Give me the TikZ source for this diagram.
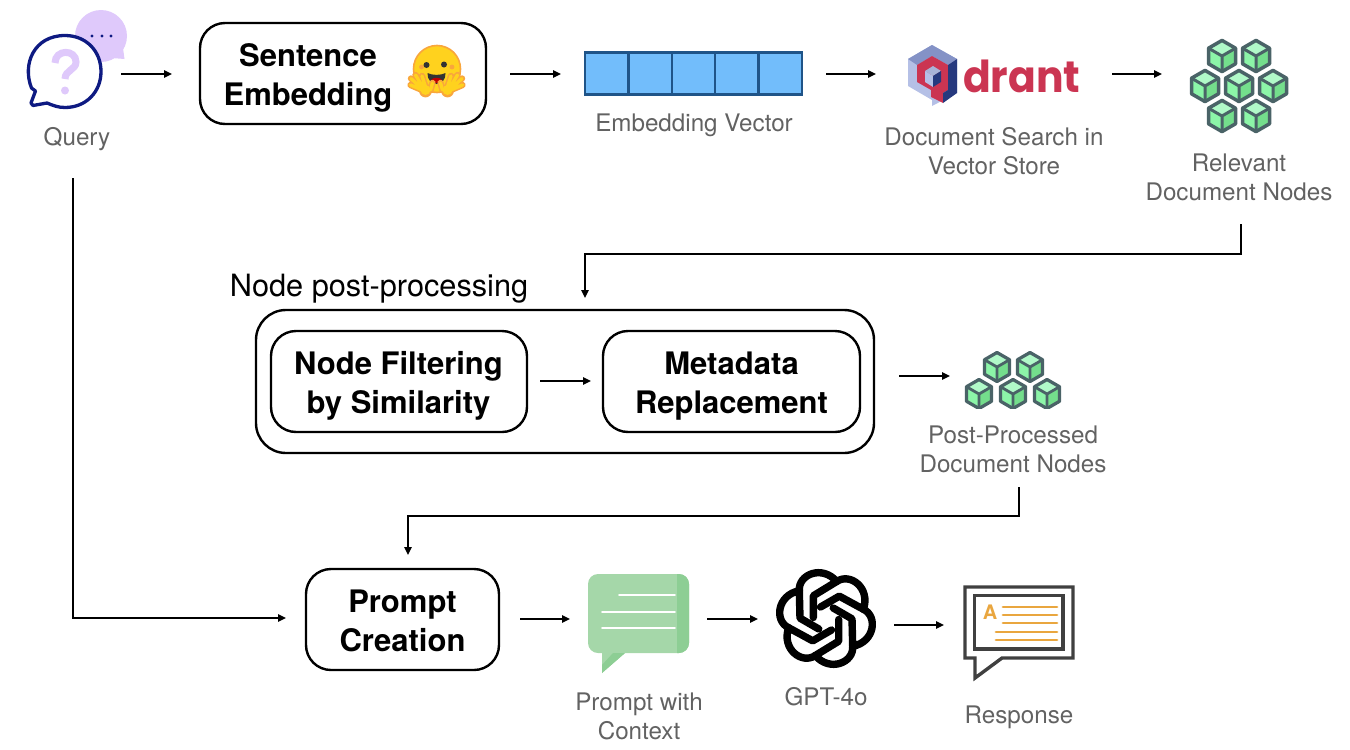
\documentclass[tikz,border=0pt]{standalone}
\usepackage{fontspec}
\setmainfont{TeX Gyre Heros}
\newfontfamily\logofont{Poppins}
\usetikzlibrary{arrows.meta}
\definecolor{lbl}{HTML}{626262}
\definecolor{cubeedge}{HTML}{4A6367}
\definecolor{cubetop}{HTML}{B0F9C8}
\definecolor{cubeleft}{HTML}{8CF5A8}
\definecolor{cuberight}{HTML}{74DE8C}
\definecolor{lilac}{HTML}{DFC9FB}
\definecolor{navy}{HTML}{0E1A82}
\definecolor{vecfill}{HTML}{72BDFB}
\definecolor{vecedge}{HTML}{1F5488}
\definecolor{qred}{HTML}{CB3552}
\definecolor{qnavy}{HTML}{26397E}
\definecolor{qmid}{HTML}{8492C6}
\definecolor{qlight}{HTML}{B5C0E6}
\definecolor{pgreen}{HTML}{A5D7A9}
\definecolor{pdark}{HTML}{8DCE94}
\definecolor{respgrey}{HTML}{404040}
\definecolor{resporange}{HTML}{E9A63F}
\definecolor{hugyellow}{HTML}{FFD21E}
\definecolor{hugorange}{HTML}{F9A63C}
\tikzset{
  box/.style={draw=black,line width=2.4pt,rounded corners=25pt,fill=white,inner sep=0pt},
  boldlabel/.style={font=\bfseries\fontsize{31}{39}\selectfont,align=center,text=black,inner sep=0pt},
  lab/.style={font=\fontsize{24.2}{29}\selectfont,align=center,text=lbl,inner sep=0pt},
  flow/.style={line width=1.5pt,-{Triangle[length=8pt,width=7.5pt]}},
  vcell/.style={draw=vecedge,line width=2.4pt,fill=vecfill,minimum width=43.4pt,minimum height=42pt,inner sep=0pt},
  cubeface/.style={draw=cubeedge,line join=round},
}
\newcommand\cubeicon[3]{%
  \begin{scope}[shift={(#1,#2)},scale=#3]
    \fill[cubeleft] (-13.5,-7.8) -- (0,0) -- (0,15.6) -- (-13.5,7.8) -- cycle;
    \fill[cuberight] (13.5,-7.8) -- (0,0) -- (0,15.6) -- (13.5,7.8) -- cycle;
    \fill[cubetop] (-13.5,-7.8) -- (0,-15.6) -- (13.5,-7.8) -- (0,0) -- cycle;
    \draw[cubeface,line width=#3*3.5pt] (0,-15.6) -- (13.5,-7.8) -- (13.5,7.8) -- (0,15.6) -- (-13.5,7.8) -- (-13.5,-7.8) -- cycle;
    \draw[cubeface,line width=#3*3pt] (-13.5,-7.8) -- (0,0) -- (13.5,-7.8) (0,0) -- (0,15.6);
  \end{scope}}
\begin{document}
\begin{tikzpicture}[x=1pt,y=-1pt]
\useasboundingbox (0,0) rectangle (1350,750);
% ---------- Query icon
\fill[lilac] (101,36) circle[radius=26pt];
\fill[lilac,line join=round] (112,58) -- (123,48) -- (124.5,59) -- cycle;
\fill[navy] (92,36) circle[radius=1.7pt] (102,36) circle[radius=1.7pt] (111,36) circle[radius=1.7pt];
\draw[navy,line width=3.3pt,fill=white,line join=round] (31.5,88) .. controls (22,64) and (34,35.5) .. (65,35.5)
  .. controls (86,35.5) and (101,51) .. (101,71.5) .. controls (101,92) and (86,107.5) .. (65,107.5)
  .. controls (58,107.5) and (53,105.5) .. (47,103) -- (33,105.5) -- (31,103) -- (35.5,91) -- cycle;
\draw[lilac,line width=7pt] (55,63) .. controls (55,49) and (76,49) .. (76,62) .. controls (76,70) and (65,70) .. (65,79);
\fill[lilac] (65,90.5) circle[radius=4pt];
\node[lab] (query) at (77,139) {Query};
% ---------- Sentence embedding
\node[box,minimum width=286pt,minimum height=101pt] (sent) at (343,73.5) {};
\node[boldlabel] (senttxt) at (308,78) {Sentence\\Embedding};
% hugging face
\fill[hugyellow,draw=hugorange,line width=1.6pt] (437,69) circle[radius=23.5pt];
\fill[hugorange] (421.5,67) circle[radius=2.4pt] (452,67) circle[radius=2.4pt];
\fill[black!80] (426.5,65) circle[radius=3pt] (444,64.5) circle[radius=3pt];
\fill[black!80] (427.5,73) .. controls (432,75.5) and (441,75.5) .. (445.5,73) .. controls (446,80) and (441,84) .. (436.5,84) .. controls (432,84) and (427,80) .. (427.5,73) -- cycle;
\fill[red!75!black] (431,80) .. controls (433,77) and (440,77) .. (442,80) .. controls (440,84) and (433,84) .. (431,80) -- cycle;
\foreach \m in {1,-1}{
  \begin{scope}[shift={(436.5,0)},xscale=\m]
    \foreach \w/\yy in {6.4/hugorange,3.4/hugyellow}{
      \draw[\yy,line width=\w pt,line cap=round,line join=round]
        (-12,91) -- (-26,85)  (-12,91) -- (-25.5,78.5) (-12,90) -- (-21,75) (-10,90) -- (-14.5,76) (-6,90) -- (-4,83);
      \fill[\yy] (-11,91) circle[radius=\w pt];
    }
    \fill[hugyellow] (-11,90) circle[radius=5pt] (-15,86) circle[radius=3pt];
  \end{scope}}
% ---------- Vector
\node[vcell] (v1) at (606.7,73.5) {};
\node[vcell] (v2) at (650.1,73.5) {};
\node[vcell] (v3) at (693.5,73.5) {};
\node[vcell] (v4) at (736.9,73.5) {};
\node[vcell] (v5) at (780.3,73.5) {};
\node[lab] (veclab) at (694,125) {Embedding Vector};
% ---------- Qdrant logo
\fill[qlight] (908,59) -- (932,45) -- (957,59) -- (957,93) -- (932,106) -- (932,100) -- (908,86) -- cycle;
\fill[qmid] (908,59) -- (932,45) -- (957,59) -- (948,65) -- (932,56) -- (917,65) -- cycle;
\fill[qred] (917,65) -- (932,56) -- (948,65) -- (948,90) -- (943,93) -- (943,103) -- (931,97) -- (931,90) -- (917,82) -- cycle;
\fill[qnavy] (948,65) -- (957,59) -- (957,93) -- (943,103) -- (943,93) -- (948,90) -- cycle;
\fill[qmid!70!white] (925,71) -- (933,66) -- (941,71) -- (933,76) -- cycle;
\fill[qlight] (925,71) -- (933,76) -- (933,87) -- (925,82) -- cycle;
\fill[qnavy] (941,71) -- (933,76) -- (933,87) -- (941,82) -- cycle;
\node[font=\logofont\bfseries\fontsize{44}{44}\selectfont,text=qred,inner sep=0pt,anchor=base west] (drant) at (963,92) {\scalebox{.93}[1]{drant}};
\node[lab] (qlab) at (994,151.5) {Document Search in\\Vector Store};
% ---------- Relevant nodes
\foreach \cx/\cy in {1222/56,1256/56,1205/86,1239/86,1273/86,1222/116,1256/116}{\cubeicon{\cx}{\cy}{1}}
\node[lab] (rellab) at (1239,177.5) {Relevant\\Document Nodes};
% ---------- Post-processing
\node[font=\fontsize{30.7}{35}\selectfont,inner sep=0pt] (pptitle) at (379,289) {Node post-processing};
\node[box,rounded corners=30pt,minimum width=618pt,minimum height=143pt] (ppbox) at (565,381.5) {};
\node[box,minimum width=256pt,minimum height=101pt] (filter) at (399,381.5) {};
\node[boldlabel] (filtertxt) at (398.5,386) {Node Filtering\\by Similarity};
\node[box,minimum width=257pt,minimum height=101pt] (meta) at (731.5,381.5) {};
\node[boldlabel] (metatxt) at (731.5,386) {Metadata\\Replacement};
% ---------- Post-processed nodes
\begin{scope}
  \clip (960,345) rectangle (1070,408);
  \foreach \cx/\cy in {997/367,1030/367,979/394,1013/394,1047/394}{\cubeicon{\cx}{\cy}{0.93}}
\end{scope}
\node[lab] (postlab) at (1013,449.5) {Post-Processed\\Document Nodes};
% ---------- Prompt creation
\node[box,minimum width=193pt,minimum height=101pt] (prompt) at (402.5,619.5) {};
\node[boldlabel] (prompttxt) at (402.5,620.5) {Prompt\\Creation};
% prompt bubble
\fill[pgreen,rounded corners=10pt] (588,574) rectangle (689,653);
\begin{scope}
  \clip (677,570) rectangle (695,660);
  \fill[pdark,rounded corners=10pt] (588,574) rectangle (689,653);
\end{scope}
\fill[pgreen] (602,650) -- (602,673) -- (625,653) -- cycle;
\fill[pdark] (602,673) -- (602,665) -- (613,653) -- (625,653) -- cycle;
\draw[white,line width=1.6pt,line cap=round] (619,595) -- (675,595) (602,612) -- (675,612) (602,628) -- (675,628);
\node[lab] (ctxlab) at (639,716) {Prompt with\\Context};
% OpenAI knot
\foreach \a in {0,60,...,300}{
  \begin{scope}[shift={(826,618.5)},rotate=\a]
    \draw[black,line width=7.4pt,line join=round,line cap=round]
      (-26.7,-27.7) .. controls (-28,-44) and (-4,-54) .. (10.7,-37) -- (-12.7,-22.7) -- (-12.7,-1);
  \end{scope}}
\node[lab] (gptlab) at (826,696.5) {GPT-4o};
% response icon
\draw[respgrey,line width=3.4pt,line join=miter] (965,587) -- (1073,587) -- (1073,658) -- (1002,658) -- (975,678) -- (975,658) -- (965,658) -- cycle;
\draw[respgrey,line width=3.2pt] (974.5,595.5) rectangle (1063,649);
\draw[resporange,line width=2.8pt,line cap=round] (1003,607) -- (1057,607) (1003,615) -- (1057,615) (1003,623) -- (1057,623) (996,632) -- (1057,632) (996,640) -- (1057,640);
\node[font=\bfseries\fontsize{20}{20}\selectfont,text=resporange,inner sep=0pt] (aletter) at (990,612) {A};
\node[lab] (resplab) at (1019,717) {Response};
% ---------- Connector ends
\coordinate (a1s) at (121,74); \coordinate (a1e) at (172,74);
\coordinate (a2s) at (510,74); \coordinate (a2e) at (561,74);
\coordinate (a3s) at (826,74); \coordinate (a3e) at (876,74);
\coordinate (a4s) at (1112,74); \coordinate (a4e) at (1162,74);
\coordinate (a5s) at (1241,224); \coordinate (a5a) at (1241,254); \coordinate (a5b) at (585,254); \coordinate (a5e) at (585,298);
\coordinate (a6s) at (540,381); \coordinate (a6e) at (591,381);
\coordinate (a7s) at (899,376); \coordinate (a7e) at (950,376);
\coordinate (a8s) at (1019,487); \coordinate (a8a) at (1019,516); \coordinate (a8b) at (408,516); \coordinate (a8e) at (408,555);
\coordinate (a9s) at (73,178); \coordinate (a9a) at (73,618); \coordinate (a9e) at (286,618);
\coordinate (a10s) at (520,619); \coordinate (a10e) at (570,619);
\coordinate (a11s) at (707,619); \coordinate (a11e) at (758,619);
\coordinate (a12s) at (894,625); \coordinate (a12e) at (944,625);
\draw[flow] (a1s) -- (a1e);
\draw[flow] (a2s) -- (a2e);
\draw[flow] (a3s) -- (a3e);
\draw[flow] (a4s) -- (a4e);
\draw[flow] (a5s) -- (a5a) -- (a5b) -- (a5e);
\draw[flow] (a6s) -- (a6e);
\draw[flow] (a7s) -- (a7e);
\draw[flow] (a8s) -- (a8a) -- (a8b) -- (a8e);
\draw[flow] (a9s) -- (a9a) -- (a9e);
\draw[flow] (a10s) -- (a10e);
\draw[flow] (a11s) -- (a11e);
\draw[flow] (a12s) -- (a12e);
\end{tikzpicture}
\end{document}
